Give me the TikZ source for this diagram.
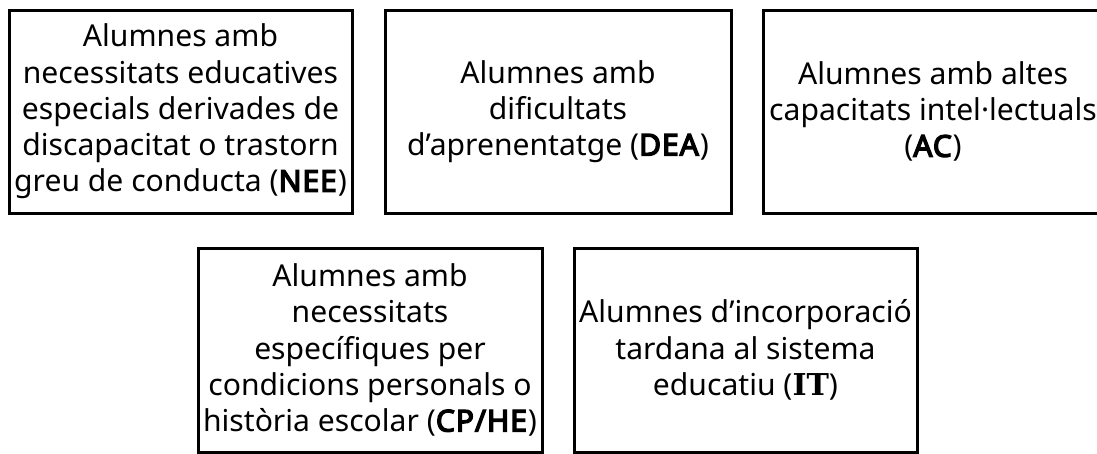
\documentclass[tikz,border=0pt]{standalone}
\usepackage{fontspec}
\setmainfont{Noto Sans}[BoldFont={Noto Sans}, BoldFeatures={FakeBold=4.5, LetterSpace=3}]
\newfontfamily\serifbold{DejaVu Serif}
\begin{document}
\begin{tikzpicture}[x=1pt,y=-1pt,
  catbox/.style={draw=black, line width=3pt, fill=white, rectangle, inner sep=0pt,
    align=center, font=\fontsize{30.1}{36.2}\selectfont},
]
\useasboundingbox (0,0) rectangle (1097,453);
\node[catbox, minimum width=343pt, minimum height=203pt] (nee) at (180.5,111.5)
  {Alumnes amb\\necessitats educatives\\especials derivades de\\discapacitat o trastorn\\greu de conducta (\textbf{NEE})};
\node[catbox, minimum width=346pt, minimum height=203pt] (dea) at (558,111.5)
  {Alumnes amb\\dificultats\\d’aprenentatge (\textbf{DEA})};
\node[catbox, minimum width=340pt, minimum height=203pt] (ac) at (933,111.5)
  {Alumnes amb altes\\capacitats intel·lectuals\\(\textbf{AC})};
\node[catbox, minimum width=344pt, minimum height=204pt] (cphe) at (370,350)
  {Alumnes amb\\necessitats\\específiques per\\condicions personals o\\història escolar (\textbf{CP/HE})};
\node[catbox, minimum width=343pt, minimum height=204pt] (it) at (745.5,350)
  {Alumnes d’incorporació\\tardana al sistema\\educatiu ({\serifbold\bfseries IT})};
\end{tikzpicture}
\end{document}
